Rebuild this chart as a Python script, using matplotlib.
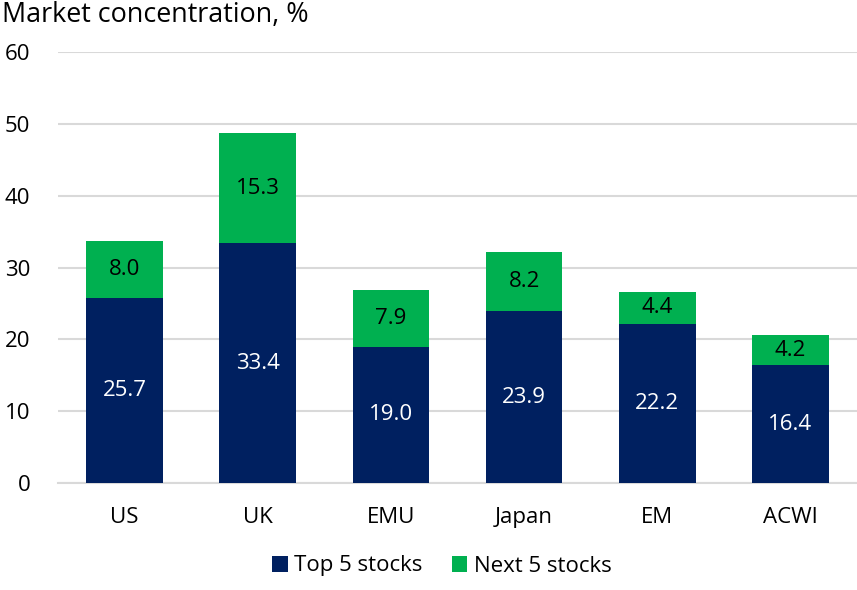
import matplotlib
matplotlib.use("Agg")
import matplotlib.pyplot as plt
import numpy as np

categories = ["US", "UK", "EMU", "Japan", "EM", "ACWI"]
top5 = [25.7, 33.4, 19.0, 23.9, 22.2, 16.4]
next5 = [8.0, 15.3, 7.9, 8.2, 4.4, 4.2]
yticks = [0, 10, 20, 30, 40, 50, 60]

navy = "#002060"
green = "#00B050"

plt.rcParams['font.family'] = ['Open Sans', 'DejaVu Sans']

fig = plt.figure(figsize=(8.57, 5.90), dpi=100)
ax = fig.add_axes([58/857, 1-483/590, 1-58/857, (483-52)/590])

x = np.arange(len(categories))
w = 0.575
b1 = ax.bar(x, top5, w, color=navy, label="Top 5 stocks", zorder=3)
b2 = ax.bar(x, next5, w, bottom=top5, color=green, label="Next 5 stocks", zorder=3)

fs = 16
for i in range(len(categories)):
    ax.text(x[i], top5[i]/2, f"{top5[i]:.1f}", ha="center", va="center",
            color="white", fontsize=fs, zorder=4)
    ax.text(x[i], top5[i] + next5[i]/2, f"{next5[i]:.1f}", ha="center", va="center",
            color="black", fontsize=fs, zorder=4)

ax.set_xlim(-0.5, len(categories)-0.5)
ax.set_ylim(0, 60)
ax.set_yticks(yticks)
ax.set_yticklabels([str(t) for t in yticks], fontsize=fs)
ax.set_xticks(x)
ax.set_xticklabels(categories, fontsize=fs)
ax.tick_params(axis="y", length=0, pad=20)
ax.tick_params(axis="x", length=0, pad=17)
ax.yaxis.grid(True, color="#D9D9D9", linewidth=1.5, zorder=0)
for s in ["top", "right", "left"]:
    ax.spines[s].set_visible(False)
ax.spines["bottom"].set_color("#D9D9D9")
ax.spines["bottom"].set_linewidth(1.5)

fig.text(2/857, 1-15/590, "Market concentration, %", fontsize=19.4, ha="left", va="center")

fig.legend(handles=[b1, b2], loc="center", bbox_to_anchor=(442/857, 1-566/590),
           ncol=2, frameon=False, fontsize=fs, handlelength=0.7, handleheight=0.7,
           handletextpad=0.3, columnspacing=1.3)

fig.savefig("out.png", dpi=100)
